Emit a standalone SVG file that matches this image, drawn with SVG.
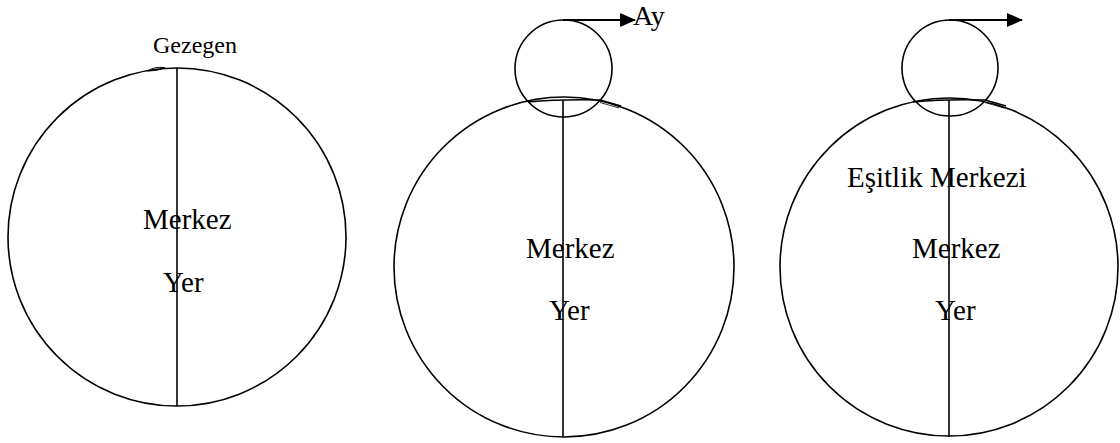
<svg xmlns="http://www.w3.org/2000/svg" width="1120" height="443" viewBox="0 0 1120 443">
<style>
.c{fill:none;stroke:#000;stroke-width:1.6}
.l{stroke:#000;stroke-width:1.6;fill:none}
.t{font-family:"Liberation Serif","Times New Roman",serif;font-size:29px;fill:#000}
</style>
<defs>
<marker id="ah" markerWidth="16" markerHeight="14" refX="15" refY="7" orient="auto" markerUnits="userSpaceOnUse" viewBox="0 0 16 14">
<path d="M0,0 L16,7 L0,14 Z" fill="#000"/>
</marker>
</defs>
<rect width="1120" height="443" fill="#fff"/>
<g id="model1">
<circle class="c" cx="177" cy="237" r="169"/>
<path class="l" style="stroke-width:1" d="M148 71 Q153 66.5 165 67.5 Q160 70.5 148 71"/>
<text class="t" x="153" y="53" style="font-size:24px">Gezegen</text>
<text class="t" x="143" y="229">Merkez</text>
<text class="t" x="163" y="292">Yer</text>
</g>
<g id="model2">
<circle class="c" cx="564" cy="267" r="170"/>
<circle class="c" cx="563.5" cy="68.5" r="48.5"/>
<path class="l" d="M528 102 Q560 99 600 100 L621 106"/>
<path class="l" style="stroke-width:0.8" d="M600 102.5 L619 108"/>
<text class="t" x="526" y="258">Merkez</text>
<text class="t" x="549" y="320">Yer</text>
<text class="t" x="633" y="25" style="font-size:28px">Ay</text>
</g>
<g id="model3">
<circle class="c" cx="949" cy="267" r="169"/>
<circle class="c" cx="950" cy="68" r="48"/>
<path class="l" d="M913 102 Q945 99 985 100 L1006 106"/>
<path class="l" style="stroke-width:0.8" d="M985 102.5 L1004 108"/>
<text class="t" x="847" y="187">Eşitlik Merkezi</text>
<text class="t" x="912" y="258">Merkez</text>
<text class="t" x="935" y="320">Yer</text>
</g>
<g id="connectors">
<line class="l" x1="177" y1="68" x2="177" y2="406"/>
<line class="l" x1="563" y1="100" x2="563" y2="437"/>
<line class="l" x1="949" y1="100" x2="949" y2="437"/>
<line class="l" x1="563" y1="20" x2="635" y2="20" style="stroke-width:2" marker-end="url(#ah)"/>
<line class="l" x1="949" y1="20" x2="1022" y2="20" style="stroke-width:2" marker-end="url(#ah)"/>
</g>
</svg>
